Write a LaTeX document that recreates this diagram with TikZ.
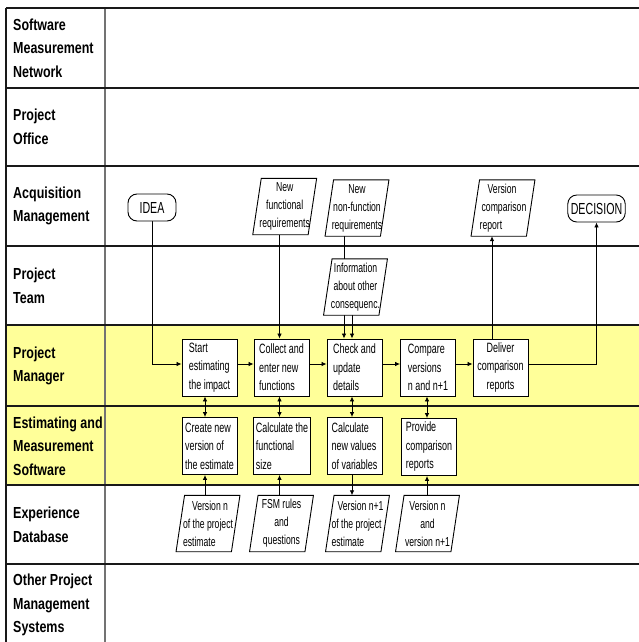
\documentclass[tikz,border=0pt]{standalone}
\usepackage{fontspec}
\setmainfont{Liberation Sans}
\newfontfamily\lblfont{Liberation Sans}[FakeStretch=0.78]
\newfontfamily\boxfont{Liberation Sans}[FakeStretch=0.665]
\usetikzlibrary{arrows.meta,calc}
\pgfdeclarelayer{bg}
\pgfdeclarelayer{lines}
\pgfdeclarelayer{para}
\pgfsetlayers{bg,lines,para,main}
\definecolor{laneyellow}{HTML}{FFFF99}
\begin{document}
\begin{tikzpicture}[x=1pt,y=-1pt,
  lanelabel/.style={anchor=west,align=left,inner sep=2pt,font=\lblfont\bfseries\fontsize{16}{23.5}\selectfont},
  proc/.style={draw,fill=white,line width=0.9pt,minimum width=55pt,minimum height=57pt,inner xsep=2pt,inner ysep=1pt,align=left,font=\boxfont\fontsize{13.5}{18.5}\selectfont},
  data/.style={minimum width=55pt,minimum height=56pt,inner sep=0.5pt,align=center,font=\boxfont\fontsize{13}{18}\selectfont},
  paraline/.style={draw,fill=white,line width=0.9pt},
  term/.style={draw,fill=white,rounded corners=9pt,line width=0.9pt,minimum height=27pt,inner xsep=3pt,font=\boxfont\fontsize{16}{18}\selectfont},
  conn/.style={line width=0.8pt,-{Latex[length=5pt,width=4.5pt]}},
  both/.style={line width=0.8pt,{Latex[length=5pt,width=4.5pt]}-{Latex[length=5pt,width=4.5pt]}},
  lane/.style={line width=1.5pt,black!90},
  divider/.style={line width=1.5pt,black!55}
]
\useasboundingbox (0,0) rectangle (639,642);

% swimlanes
\begin{pgfonlayer}{bg}
\fill[white] (0,0) rectangle (639,642);
\fill[laneyellow] (6,325) rectangle (639,485);
\draw[divider] (105,8) -- (105,642);
\foreach \yy in {8,88,166,246,325,406,485,564}
  \draw[lane] (6,\yy) -- (639,\yy);
\draw[lane] (6,8) -- (6,642);
\end{pgfonlayer}

% lane labels
\node[lanelabel] (l1) at (11,48) {Software\\Measurement\\Network};
\node[lanelabel] (l2) at (11,127) {Project\\Office};
\node[lanelabel] (l3) at (11,206) {Acquisition\\Management};
\node[lanelabel] (l4) at (11,286) {Project\\Team};
\node[lanelabel] (l5) at (11,366) {Project\\Manager};
\node[lanelabel] (l6) at (11,446) {Estimating and\\Measurement\\Software};
\node[lanelabel] (l7) at (11,525) {Experience\\Database};
\node[lanelabel] (l8) at (11,605) {Other Project\\Management\\Systems};

% terminals
\node[term,minimum width=48pt] (idea) at (152,207.5) {IDEA};
\node[term,minimum width=55pt] (decision) at (596.5,208.5) {DECISION};

% data (parallelograms)
\node[data] (nfr) at (284.7,206.5) {New\\functional\\requirements};
\node[data] (nnfr) at (357,208) {New\\non-function\\requirements};
\node[data] (info) at (355.5,287) {Information\\about other\\consequenc.};
\node[data,align=left] (vcr) at (503,208) {\hspace{8pt}Version\\\hspace{2pt}comparison\\report};
\node[data,align=left] (v1) at (208,523.5) {\hspace{9pt}Version n\\of the project\\estimate};
\node[data] (fsm) at (281.5,523.5) {FSM rules\\and\\questions};
\node[data,align=left] (v2) at (357.5,523.5) {\hspace{6pt}Version n+1\\of the project\\estimate};
\node[data] (v3) at (427.5,523.5) {Version n\\and\\version n+1};

% processes
\node[proc] (start) at (209.5,367.5) {Start\\estimating\\the impact};
\node[proc] (collect) at (281.5,367.5) {Collect and\\enter new\\functions};
\node[proc] (check) at (354.5,367.5) {Check and\\update\\details};
\node[proc] (compare) at (428,367.5) {Compare\\versions\\n and n+1};
\node[proc,align=center] (deliver) at (500.5,367.5) {Deliver\\comparison\\reports};
\node[proc] (create) at (209.5,446) {Create new\\version of\\the estimate};
\node[proc] (calcf) at (282,446) {Calculate the\\functional\\size};
\node[proc] (calcn) at (354.5,446) {Calculate\\new values\\of variables};
\node[proc] (provide) at (429,447) {Provide\\comparison\\reports};

% parallelogram outlines
\begin{pgfonlayer}{para}
\foreach \n in {nfr,nnfr,info,vcr,v1,fsm,v2,v3}
  \draw[paraline] ($(\n.north west)+(4.25,0)$) -- ($(\n.north east)+(4.25,0)$)
    -- ($(\n.south east)+(-4.25,0)$) -- ($(\n.south west)+(-4.25,0)$) -- cycle;
\end{pgfonlayer}

% connectors
\coordinate (hy) at (0,364);
\coordinate (xa) at (205,0);
\coordinate (xb) at (279.5,0);
\coordinate (xc) at (352,0);
\coordinate (xd) at (427,0);
\coordinate (xn) at (344,0);
\coordinate (xe) at (492,0);
\begin{pgfonlayer}{lines}
\draw[conn] (idea.south) |- (start.west |- hy);
\draw[conn] (start.east |- hy) -- (collect.west |- hy);
\draw[conn] (collect.east |- hy) -- (check.west |- hy);
\draw[conn] (check.east |- hy) -- (compare.west |- hy);
\draw[conn] (compare.east |- hy) -- (deliver.west |- hy);
\draw[conn] (deliver.east |- hy) -| (decision.south);
\draw[conn] (deliver.north -| xe) -- (vcr.south -| xe);
\draw[conn] (nfr.south -| xb) -- (collect.north -| xb);
\draw[conn] (nnfr.south -| xn) -- (check.north -| xn);
\draw[conn] (info.south -| xc) -- (check.north -| xc);
\draw[both] (start.south -| xa) -- (create.north -| xa);
\draw[both] (collect.south -| xb) -- (calcf.north -| xb);
\draw[both] (check.south -| xc) -- (calcn.north -| xc);
\draw[both] (compare.south -| xd) -- (provide.north -| xd);
\draw[conn] (v1.north -| xa) -- (create.south -| xa);
\draw[conn] (fsm.north -| xb) -- (calcf.south -| xb);
\draw[conn] (calcn.south -| xc) -- (v2.north -| xc);
\draw[conn] (v3.north -| xd) -- (provide.south -| xd);
\end{pgfonlayer}
\end{tikzpicture}
\end{document}
